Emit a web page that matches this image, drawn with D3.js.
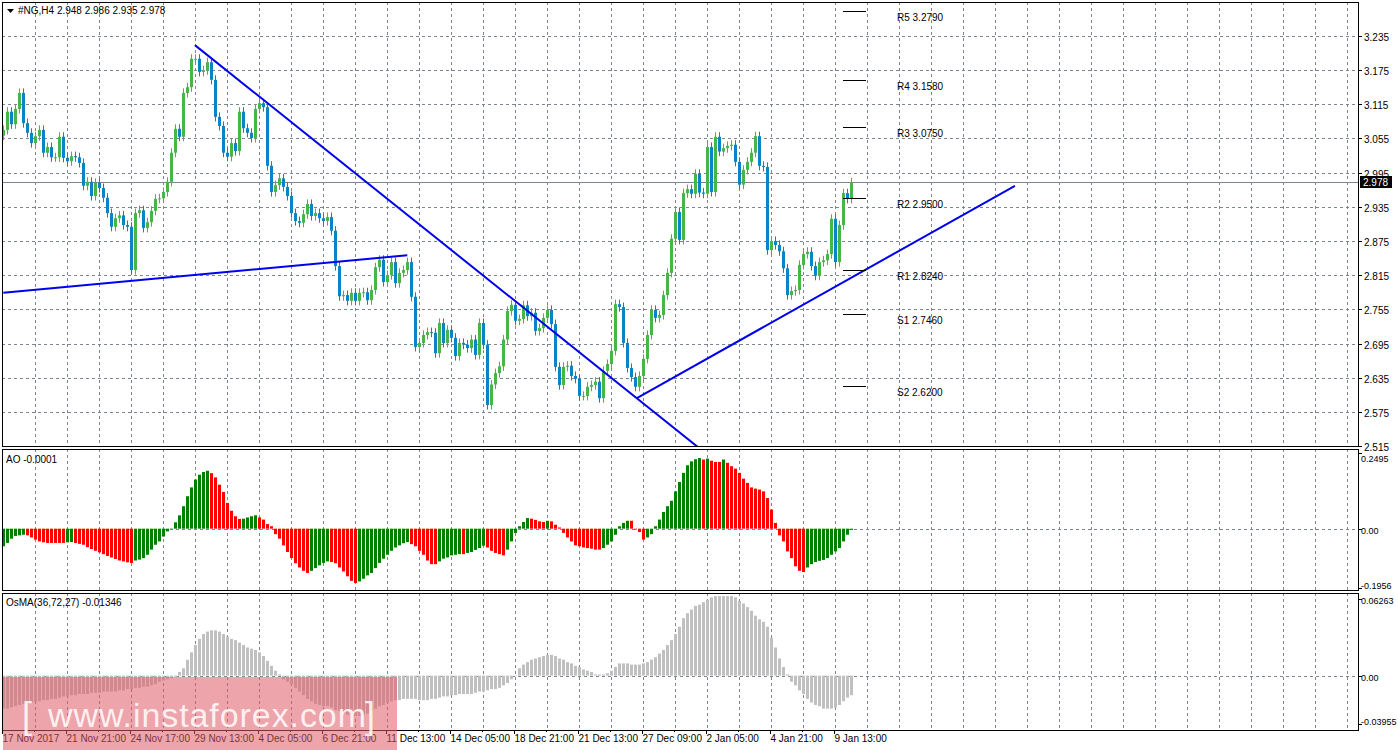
<!DOCTYPE html>
<html>
<head>
<meta charset="utf-8">
<script src="https://cdn.jsdelivr.net/npm/d3@7"></script>
<style>
body { margin: 0; background: #fff; }
text { font-family: "Liberation Sans", "DejaVu Sans", sans-serif; font-size: 10px; fill: #000; }
</style>
</head>
<body>
<svg id="chart" width="1398" height="750"></svg>
<script>
// closes of each H4 bar (opens are taken from the previous close)
var closes = [3.070,3.102,3.080,3.107,3.135,3.082,3.065,3.047,3.059,3.070,3.030,3.040,3.022,3.022,3.058,3.021,
3.015,3.024,3.022,3.012,2.972,2.979,2.954,2.977,2.968,2.951,2.924,2.900,2.915,2.920,2.903,2.900,
2.824,2.924,2.929,2.898,2.908,2.928,2.949,2.950,2.961,2.979,3.030,3.072,3.058,3.135,3.145,3.195,
3.195,3.172,3.175,3.189,3.158,3.093,3.077,3.030,3.023,3.047,3.033,3.102,3.073,3.065,3.056,3.107,
3.117,3.110,3.007,2.961,2.973,2.985,2.970,2.954,2.924,2.910,2.907,2.922,2.940,2.919,2.924,2.915,
2.910,2.917,2.893,2.831,2.778,2.780,2.770,2.784,2.770,2.784,2.785,2.771,2.789,2.829,2.842,2.803,
2.815,2.838,2.801,2.819,2.824,2.838,2.777,2.689,2.696,2.710,2.715,2.714,2.678,
2.731,2.696,2.719,2.705,2.673,2.696,2.693,2.687,2.702,2.675,2.731,2.693,2.587,2.623,2.643,2.655,
2.702,2.752,2.763,2.735,2.738,2.762,2.743,2.749,2.717,2.722,2.740,2.754,2.729,2.654,2.622,2.654,
2.656,2.638,2.633,2.603,2.603,2.619,2.622,2.628,2.599,2.647,2.659,2.682,2.764,2.759,2.696,2.652,
2.636,2.619,2.638,2.668,2.710,2.754,2.740,2.745,2.780,2.819,2.879,2.926,2.877,2.959,2.966,2.958,
2.993,2.960,2.958,3.040,2.961,3.058,3.032,3.038,3.042,3.044,3.014,2.974,3.000,3.014,3.030,3.059,
3.007,3.005,2.859,2.875,2.868,2.857,2.827,2.780,2.787,2.789,2.833,2.852,2.856,2.831,2.814,2.838,
2.841,2.852,2.914,2.838,2.903,2.959,2.949,2.978];
var firstOpen = 3.060;
var wick = 0.008;

// Awesome Oscillator, thousandths
var aoVals = [-58,-47,-33,-24,-22,-20,-22,-29,-36,-42,-45,-47,-47,-47,-47,-47,-45,-44,-47,-50,
-53,-61,-67,-73,-78,-84,-90,-95,-100,-105,-108,-111,-113,-105,-102,-97,-86,-69,-53,-42,
-26,-9,-2,21,44,74,107,136,162,178,187,191,183,169,145,121,85,59,41,32,
33,37,41,44,37,30,15,8,-18,-33,-55,-77,-97,-114,-128,-139,-146,-139,-130,-121,
-113,-108,-110,-114,-128,-141,-157,-172,-179,-174,-165,-154,-146,-130,-113,-99,-86,-73,-62,-55,
-48,-44,-51,-58,-73,-86,-105,-117,-117,-108,-99,-95,-88,-86,-84,-84,-80,-77,-70,-64,
-56,-62,-73,-80,-84,-88,-69,-42,-14,8,22,35,33,29,24,22,26,24,13,4,
-14,-29,-42,-55,-58,-62,-64,-66,-69,-69,-64,-53,-42,-20,8,19,26,26,-3,-11,
-36,-29,-18,8,30,55,74,92,123,154,184,209,222,229,233,228,231,224,220,220,
228,217,206,198,184,165,151,136,132,129,123,101,63,19,-22,-42,-75,-97,-124,-139,
-143,-128,-117,-110,-106,-103,-97,-86,-75,-64,-42,-20,-4];

// OsMA(36,72,27), thousandths
var osmaVals = [-27,-27,-26,-25,-24,-23,-23,-22,-21,-21,-20,-20,-19,-19,-18,-17,-17,-16,-16,-15,
-15,-15,-14,-14,-14,-13,-13,-13,-13,-12,-12,-11,-11,-10,-10,-9,-9,-8,-7,-5,
-4,-3,-2,-1,3,6,13,19,25,30,34,36,37,37,36,34,32,30,29,27,
25,23,22,21,19,16,12,8,4,1,-3,-5,-7,-10,-13,-16,-19,-21,-23,-24,
-25,-25,-26,-28,-29,-30,-32,-32,-33,-33,-32,-31,-29,-27,-25,-24,-22,-21,-20,-20,
-19,-19,-19,-19,-20,-20,-20,-19,-19,-18,-17,-17,-16,-16,-15,-15,-15,-15,-14,-13,
-13,-12,-11,-11,-10,-8,-6,-3,0,6,9,11,13,14,15,16,17,17,16,14,
13,11,10,8,7,5,4,3,1,1,1,2,4,7,10,10,10,9,9,9,
10,11,13,15,18,21,25,29,34,40,47,51,54,57,58,60,62,64,65,65,
65,65,65,64,61,59,56,53,49,46,44,40,31,23,14,7,1,-5,-8,-12,
-15,-19,-22,-24,-25,-27,-27,-27,-26,-24,-21,-18,-16];

var priceTicks = [3.235,3.175,3.115,3.055,2.995,2.935,2.875,2.815,2.755,2.695,2.635,2.575,2.515];
var timeLabels = ["17 Nov 2017","21 Nov 21:00","24 Nov 17:00","29 Nov 13:00","4 Dec 05:00","6 Dec 21:00",
"11 Dec 13:00","14 Dec 05:00","18 Dec 21:00","21 Dec 13:00","27 Dec 09:00","2 Jan 05:00","4 Jan 21:00","9 Jan 13:00"];

var pivotNames = ["R5","R4","R3","R2","R1","S1","S2"];
var pivotVals = [3.2790,3.1580,3.0750,2.9500,2.8240,2.7460,2.6200];

// trend lines: [bar index, price] pairs
var trendLines = [
  [[47.9,3.219],[174.2,2.510]],
  [[0,2.784],[101,2.850]],
  [[158.4,2.599],[252.9,2.972]]
];

var lastPrice = 2.978;

var svg = d3.select("#chart");
var L = 2, R = 1358;
var mainTop = 2, mainBot = 446, aoTop = 449, aoBot = 590, osTop = 593, osBot = 730;

var x = d3.scaleLinear().domain([0, 1]).range([3.3, 7.3]);
var y = d3.scaleLinear().domain([2.515, 3.235]).range([446, 36]);
var yAo = d3.scaleLinear().domain([-0.1956, 0.2495]).range([588, 453]);
var yOs = d3.scaleLinear().domain([-0.03955, 0.06263]).range([724, 599]);

var bars = closes.map(function(c, i) {
  var o = i === 0 ? firstOpen : closes[i - 1];
  return {i: i, o: o, c: c, h: Math.max(o, c) + wick, l: Math.min(o, c) - wick};
});

var gridCol = "#7b8594";
// vertical grid every 8 bars
var vx = d3.range(8, 340, 8).map(function(i) { return x(i) - 0.3; }).filter(function(v) { return v < R; });
[[mainTop, mainBot], [aoTop, aoBot], [osTop, osBot]].forEach(function(p) {
  svg.append("g").selectAll("line").data(vx).join("line")
    .attr("x1", function(d) { return Math.round(d) + 0.5; }).attr("x2", function(d) { return Math.round(d) + 0.5; })
    .attr("y1", p[0]).attr("y2", p[1])
    .attr("stroke", gridCol).attr("stroke-dasharray", "3,3");
});
svg.append("g").selectAll("line").data(priceTicks).join("line")
  .attr("x1", L).attr("x2", R)
  .attr("y1", function(d) { return Math.round(y(d)) + 0.5; }).attr("y2", function(d) { return Math.round(y(d)) + 0.5; })
  .attr("stroke", gridCol).attr("stroke-dasharray", "3,3");
[yAo(0), yOs(0)].forEach(function(v) {
  svg.append("line").attr("x1", L).attr("x2", R).attr("y1", Math.round(v) + 0.5).attr("y2", Math.round(v) + 0.5)
    .attr("stroke", gridCol).attr("stroke-dasharray", "3,3");
});

// last price line
svg.append("line").attr("x1", L).attr("x2", R).attr("y1", Math.round(y(lastPrice)) + 0.5).attr("y2", Math.round(y(lastPrice)) + 0.5)
  .attr("stroke", "#7b8594");

// candles
var main = svg.append("g").attr("clip-path", "url(#clipMain)");
svg.append("clipPath").attr("id", "clipMain").append("rect").attr("x", L).attr("y", mainTop).attr("width", R - L).attr("height", mainBot - mainTop);
var cg = main.selectAll("g.c").data(bars).join("g");
cg.append("line")
  .attr("x1", function(d) { return Math.round(x(d.i)) + 0.5; }).attr("x2", function(d) { return Math.round(x(d.i)) + 0.5; })
  .attr("y1", function(d) { return y(d.h); }).attr("y2", function(d) { return y(d.l); })
  .attr("stroke", function(d) { return d.c >= d.o ? "#47b547" : "#0a84c6"; });
cg.append("rect")
  .attr("x", function(d) { return Math.round(x(d.i)) - 1; })
  .attr("width", 3)
  .attr("y", function(d) { return y(Math.max(d.o, d.c)); })
  .attr("height", function(d) { return Math.max(1, Math.abs(y(d.o) - y(d.c))); })
  .attr("fill", function(d) { return d.c >= d.o ? "#47b547" : "#0a84c6"; });

// trend lines
main.selectAll("line.t").data(trendLines).join("line")
  .attr("x1", function(d) { return x(d[0][0]); }).attr("y1", function(d) { return y(d[0][1]); })
  .attr("x2", function(d) { return x(d[1][0]); }).attr("y2", function(d) { return y(d[1][1]); })
  .attr("stroke", "#0000ee").attr("stroke-width", 2);

// pivot levels
var pv = svg.append("g");
pivotVals.forEach(function(v, k) {
  var yy = Math.round(y(v)) + 0.5;
  pv.append("line").attr("x1", 843).attr("x2", 866).attr("y1", yy).attr("y2", yy).attr("stroke", "#000");
  pv.append("text").attr("x", 897).attr("y", yy + 9).text(pivotNames[k] + " " + v.toFixed(4));
});

// AO histogram
svg.append("g").selectAll("rect").data(aoVals).join("rect")
  .attr("x", function(d, i) { return Math.round(x(i)) - 1; })
  .attr("width", 3)
  .attr("y", function(d) { return Math.min(yAo(d / 1000), yAo(0)); })
  .attr("height", function(d) { return Math.abs(yAo(d / 1000) - yAo(0)); })
  .attr("fill", function(d, i) { return (i === 0 || d > aoVals[i - 1]) ? "#008000" : "#ff0000"; });

// OsMA histogram
svg.append("g").selectAll("rect").data(osmaVals).join("rect")
  .attr("x", function(d, i) { return Math.round(x(i)) - 1; })
  .attr("width", 3)
  .attr("y", function(d) { return Math.min(yOs(d / 1000), yOs(0)); })
  .attr("height", function(d) { return Math.max(0.5, Math.abs(yOs(d / 1000) - yOs(0))); })
  .attr("fill", "#c0c0c0");

// panel frames
[[mainTop, mainBot], [aoTop, aoBot], [osTop, osBot]].forEach(function(p) {
  svg.append("rect").attr("x", L + 0.5).attr("y", p[0] + 0.5).attr("width", R - L).attr("height", p[1] - p[0])
    .attr("fill", "none").attr("stroke", "#000");
});

// right axis
var ax = svg.append("g");
priceTicks.forEach(function(v) {
  var yy = Math.round(y(v)) + 0.5;
  ax.append("line").attr("x1", R).attr("x2", R + 4).attr("y1", yy).attr("y2", yy).attr("stroke", "#000");
  ax.append("text").attr("x", R + 6).attr("y", yy + 4).text(v.toFixed(3));
});
var ly = Math.round(y(lastPrice));
ax.append("rect").attr("x", R + 2).attr("y", ly - 6).attr("width", 32).attr("height", 12).attr("fill", "#000");
ax.append("text").attr("x", R + 5).attr("y", ly + 4).style("fill", "#fff").text(lastPrice.toFixed(3));
[[0.2495, yAo, "0.2495", 8], [0, yAo, "0.00", 4], [-0.1956, yAo, "-0.1956", 0],
 [0.06263, yOs, "0.06263", 4], [0, yOs, "0.00", 4], [-0.03955, yOs, "-0.03955", 0]].forEach(function(a) {
  var yy = Math.round(a[1](a[0])) + 0.5;
  ax.append("line").attr("x1", R).attr("x2", R + 4).attr("y1", yy).attr("y2", yy).attr("stroke", "#000");
  ax.append("text").attr("x", R + 3).attr("y", yy + a[3]).style("font-size", "9px").text(a[2]);
});

// time axis
timeLabels.forEach(function(t, k) {
  var tx = Math.round(x(k * 16)) - 0.5;
  svg.append("line").attr("x1", tx).attr("x2", tx).attr("y1", osBot).attr("y2", osBot + 4).attr("stroke", "#000");
  svg.append("text").attr("x", tx).attr("y", 742).text(t);
});
d3.range(8, 216, 16).forEach(function(i) {
  var tx = Math.round(x(i)) - 0.5;
  svg.append("line").attr("x1", tx).attr("x2", tx).attr("y1", osBot).attr("y2", osBot + 2).attr("stroke", "#000");
});

// headers
svg.append("path").attr("d", "M7,9 L14,9 L10.5,13 Z").attr("fill", "#000");
svg.append("text").attr("x", 18).attr("y", 14).text("#NG,H4  2.948 2.986 2.935 2.978");
svg.append("text").attr("x", 6).attr("y", 463).text("AO -0.0001");
svg.append("text").attr("x", 6).attr("y", 606).text("OsMA(36,72,27) -0.01346");

// watermark
svg.append("rect").attr("x", 3).attr("y", 677).attr("width", 394).attr("height", 73).attr("fill", "rgba(222,90,100,0.55)");
var wm = svg.append("g").style("fill", "rgba(255,255,255,0.85)");
wm.append("text").attr("x", 22).attr("y", 728).style("font-size", "36px").style("font-weight", "300").style("fill", "inherit").text("[");
wm.append("text").attr("x", 365).attr("y", 728).style("font-size", "36px").style("font-weight", "300").style("fill", "inherit").text("]");
wm.append("text").attr("x", 48).attr("y", 727).attr("textLength", 318).style("font-size", "34px").style("fill", "inherit").text("www.instaforex.com");
</script>
</body>
</html>
